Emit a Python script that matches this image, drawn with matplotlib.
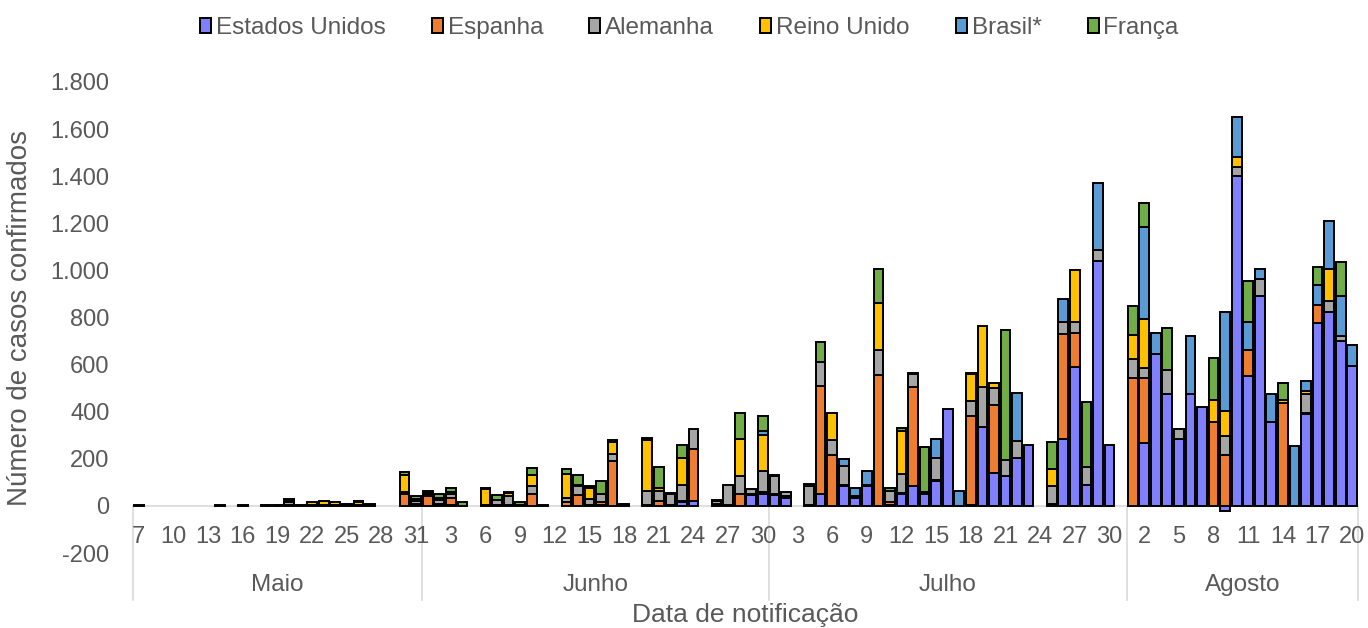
import matplotlib
matplotlib.use("Agg")
import matplotlib.pyplot as plt
import numpy as np
from matplotlib.patches import Patch

# ---------------- data ----------------
month_names = ["Maio", "Junho", "Julho", "Agosto"]
month_first = [7, 1, 1, 1]
month_last = [31, 30, 31, 20]

series_names = ["Estados Unidos", "Espanha", "Alemanha", "Reino Unido", "Brasil*", "França"]
series_colors = ["#8080FF", "#ED7D31", "#A5A5A5", "#FFC000", "#5B9BD5", "#70AD47"]

estados_unidos = [
    0, 0, 0, 0, 0, 0, 0, 0, 0, 0, 0, 0, 0, 0, 0, 0, 0, 0, 0, 0, 0, 0, 0, 0, 0,
    0, 0, 5, 0, 0, 0, 0, 0, 0, 0, 0, 0, 0, 0, 0, 5, 0, 0, 0, 0, 0, 0, 15, 20, 0, 10, 0, 0, 45, 50,
    45, 35, 0, 0, 50, 0, 85, 35, 85, 0, 5, 50, 85, 50, 105, 410, 0, 5, 335, 140, 125, 205, 260, 0, 0,
    285, 590, 90, 1040, 260, 0,
    0, 265, 645, 475, 285, 475, 420, 0, -20, 1400, 550, 890, 355, 0, 0, 390, 775, 825, 700, 595,
]
espanha = [
    0, 0, 0, 0, 0, 0, 0, 0, 0, 0, 0, 0, 0, 5, 0, 5, 5, 0, 3, 5, 3, 0, 0, 50, 10,
    40, 10, 30, 0, 0, 3, 5, 5, 0, 50, 0, 0, 15, 45, 5, 10, 190, 0, 0, 5, 20, 5, 5, 220, 0, 0, 5, 50, 5, 10,
    5, 5, 0, 5, 460, 215, 5, 5, 5, 555, 10, 5, 420, 5, 5, 0, 0, 375, 0, 290, 0, 0, 0, 0, 10,
    445, 145, 0, 0, 0, 0,
    545, 280, 0, 0, 0, 0, 0, 355, 215, 0, 110, 0, 0, 435, 0, 5, 80, 0, 0, 0,
]
alemanha = [
    4, 0, 0, 0, 0, 0, 0, 4, 0, 4, 0, 3, 5, 10, 5, 0, 0, 5, 5, 0, 7, 0, 0, 10, 10,
    10, 15, 15, 0, 0, 0, 20, 35, 5, 35, 5, 0, 20, 40, 25, 35, 30, 5, 0, 60, 45, 45, 70, 85, 0, 10, 85, 75, 20, 90,
    75, 20, 0, 80, 100, 65, 80, 0, 0, 105, 50, 80, 55, 5, 95, 0, 0, 65, 170, 70, 70, 70, 0, 0, 75,
    50, 45, 75, 45, 0, 0,
    80, 40, 0, 100, 40, 0, 0, 0, 80, 40, 0, 75, 0, 0, 0, 80, 0, 45, 20, 0,
]
reino_unido = [
    0, 0, 0, 0, 0, 0, 0, 0, 0, 0, 0, 0, 0, 5, 0, 10, 15, 10, 0, 12, 0, 0, 0, 70, 10,
    5, 10, 10, 0, 0, 70, 0, 15, 0, 45, 0, 0, 100, 5, 45, 0, 50, 0, 0, 215, 10, 0, 115, 0, 0, 0, 0, 160, 0, 150,
    0, 0, 0, 5, 0, 115, 0, 0, 0, 200, 0, 185, 0, 0, 0, 0, 0, 115, 260, 20, 0, 0, 0, 0, 70,
    0, 220, 0, 0, 0, 0,
    100, 210, 0, 0, 0, 0, 0, 95, 110, 40, 0, 0, 0, 15, 0, 15, 0, 135, 0, 0,
]
brasil = [
    0, 0, 0, 0, 0, 0, 0, 0, 0, 0, 0, 0, 0, 0, 0, 0, 0, 0, 0, 0, 0, 0, 0, 0, 0,
    0, 0, 0, 0, 0, 0, 0, 0, 0, 0, 0, 0, 0, 0, 0, 0, 0, 0, 0, 0, 0, 0, 0, 0, 0, 0, 0, 0, 0, 20,
    0, 0, 0, 0, 0, 0, 30, 35, 60, 0, 0, 0, 0, 0, 80, 0, 65, 0, 0, 0, 0, 205, 0, 0, 0,
    100, 0, 0, 285, 0, 0,
    0, 390, 90, 0, 0, 245, 0, 0, 420, 170, 120, 40, 120, 0, 255, 40, 85, 205, 170, 90,
]
franca = [
    0, 0, 0, 0, 0, 0, 0, 0, 0, 0, 0, 0, 0, 10, 0, 0, 0, 0, 0, 5, 0, 0, 0, 15, 10,
    10, 15, 15, 15, 0, 5, 20, 5, 10, 30, 0, 0, 20, 40, 10, 55, 10, 5, 0, 10, 90, 5, 55, 0, 0, 5, 0, 110, 0, 60,
    5, 0, 0, 5, 85, 0, 0, 0, 0, 145, 10, 10, 5, 190, 0, 0, 0, 5, 0, 0, 550, 0, 0, 0, 115,
    0, 0, 275, 0, 0, 0,
    125, 100, 0, 180, 0, 0, 0, 180, 0, 0, 175, 0, 0, 70, 0, 0, 75, 0, 145, 0,
]

y_ticks = [-200, 0, 200, 400, 600, 800, 1000, 1200, 1400, 1600, 1800]

# ---------------- categories ----------------
day_labels = []
month_of = []
for m, (a, b) in enumerate(zip(month_first, month_last)):
    for d in range(a, b + 1):
        day_labels.append(str(d))
        month_of.append(m)
n = len(day_labels)
x = np.arange(n)

all_series = [estados_unidos, espanha, alemanha, reino_unido, brasil, franca]

plt.rcParams["font.family"] = ["Liberation Sans", "DejaVu Sans"]
txt = "#595959"

fig = plt.figure(figsize=(13.68, 6.28), dpi=100)
ax = fig.add_axes([133 / 1368, 1 - 553 / 628, (1358 - 133) / 1368, (553 - 82) / 628])

pos_bottom = np.zeros(n)
neg_bottom = np.zeros(n)
for vals, col in zip(all_series, series_colors):
    v = np.array(vals, dtype=float)
    mask = v != 0
    bottoms = np.where(v > 0, pos_bottom, neg_bottom)
    ax.bar(x[mask], v[mask], bottom=bottoms[mask], width=0.84, color=col,
           edgecolor="black", linewidth=1.4, zorder=3)
    pos_bottom = pos_bottom + np.where(v > 0, v, 0)
    neg_bottom = neg_bottom + np.where(v < 0, v, 0)

ax.set_xlim(-0.5, n - 0.5)
ax.set_ylim(-200, 1800)
ax.set_yticks(y_ticks)
ax.set_yticklabels([f"{t:,}".replace(",", ".") for t in y_ticks], color=txt, fontsize=17)
ax.tick_params(axis="y", length=0, pad=17)
ax.set_xticks([])
for s in ax.spines.values():
    s.set_visible(False)
ax.axhline(0, color="#D9D9D9", linewidth=1.2, zorder=2)

# day labels
for i in range(0, n, 3):
    ax.text(i, -130, day_labels[i], ha="center", va="center", fontsize=17, color=txt, clip_on=False)

# month separators and labels
bounds = [-0.5]
for i in range(1, n):
    if month_of[i] != month_of[i - 1]:
        bounds.append(i - 0.5)
bounds.append(n - 0.5)
for b in bounds:
    ax.plot([b, b], [0, -400], color="#D9D9D9", linewidth=1.2, clip_on=False, zorder=1)
for m in range(len(month_names)):
    ax.text((bounds[m] + bounds[m + 1]) / 2, -335, month_names[m], ha="center", va="center",
            fontsize=17.5, color=txt, clip_on=False)

ax.text((n - 1) / 2, -462, "Data de notificação", ha="center", va="center", fontsize=19,
        color=txt, clip_on=False)
fig.text(20 / 1368, 1 - 318 / 628, "Número de casos confirmados", rotation=90, ha="center",
         va="center", fontsize=20, color=txt)

handles = [Patch(facecolor=c, edgecolor="black", linewidth=1.4) for c in series_colors]
fig.legend(handles, series_names, loc="center", bbox_to_anchor=(0.504, 1 - 28 / 628), ncol=6,
           frameon=False, fontsize=17.5, handlelength=0.45, handleheight=0.6, handletextpad=0.2,
           columnspacing=1.9, labelcolor=txt)

fig.savefig("out.png", dpi=100)
